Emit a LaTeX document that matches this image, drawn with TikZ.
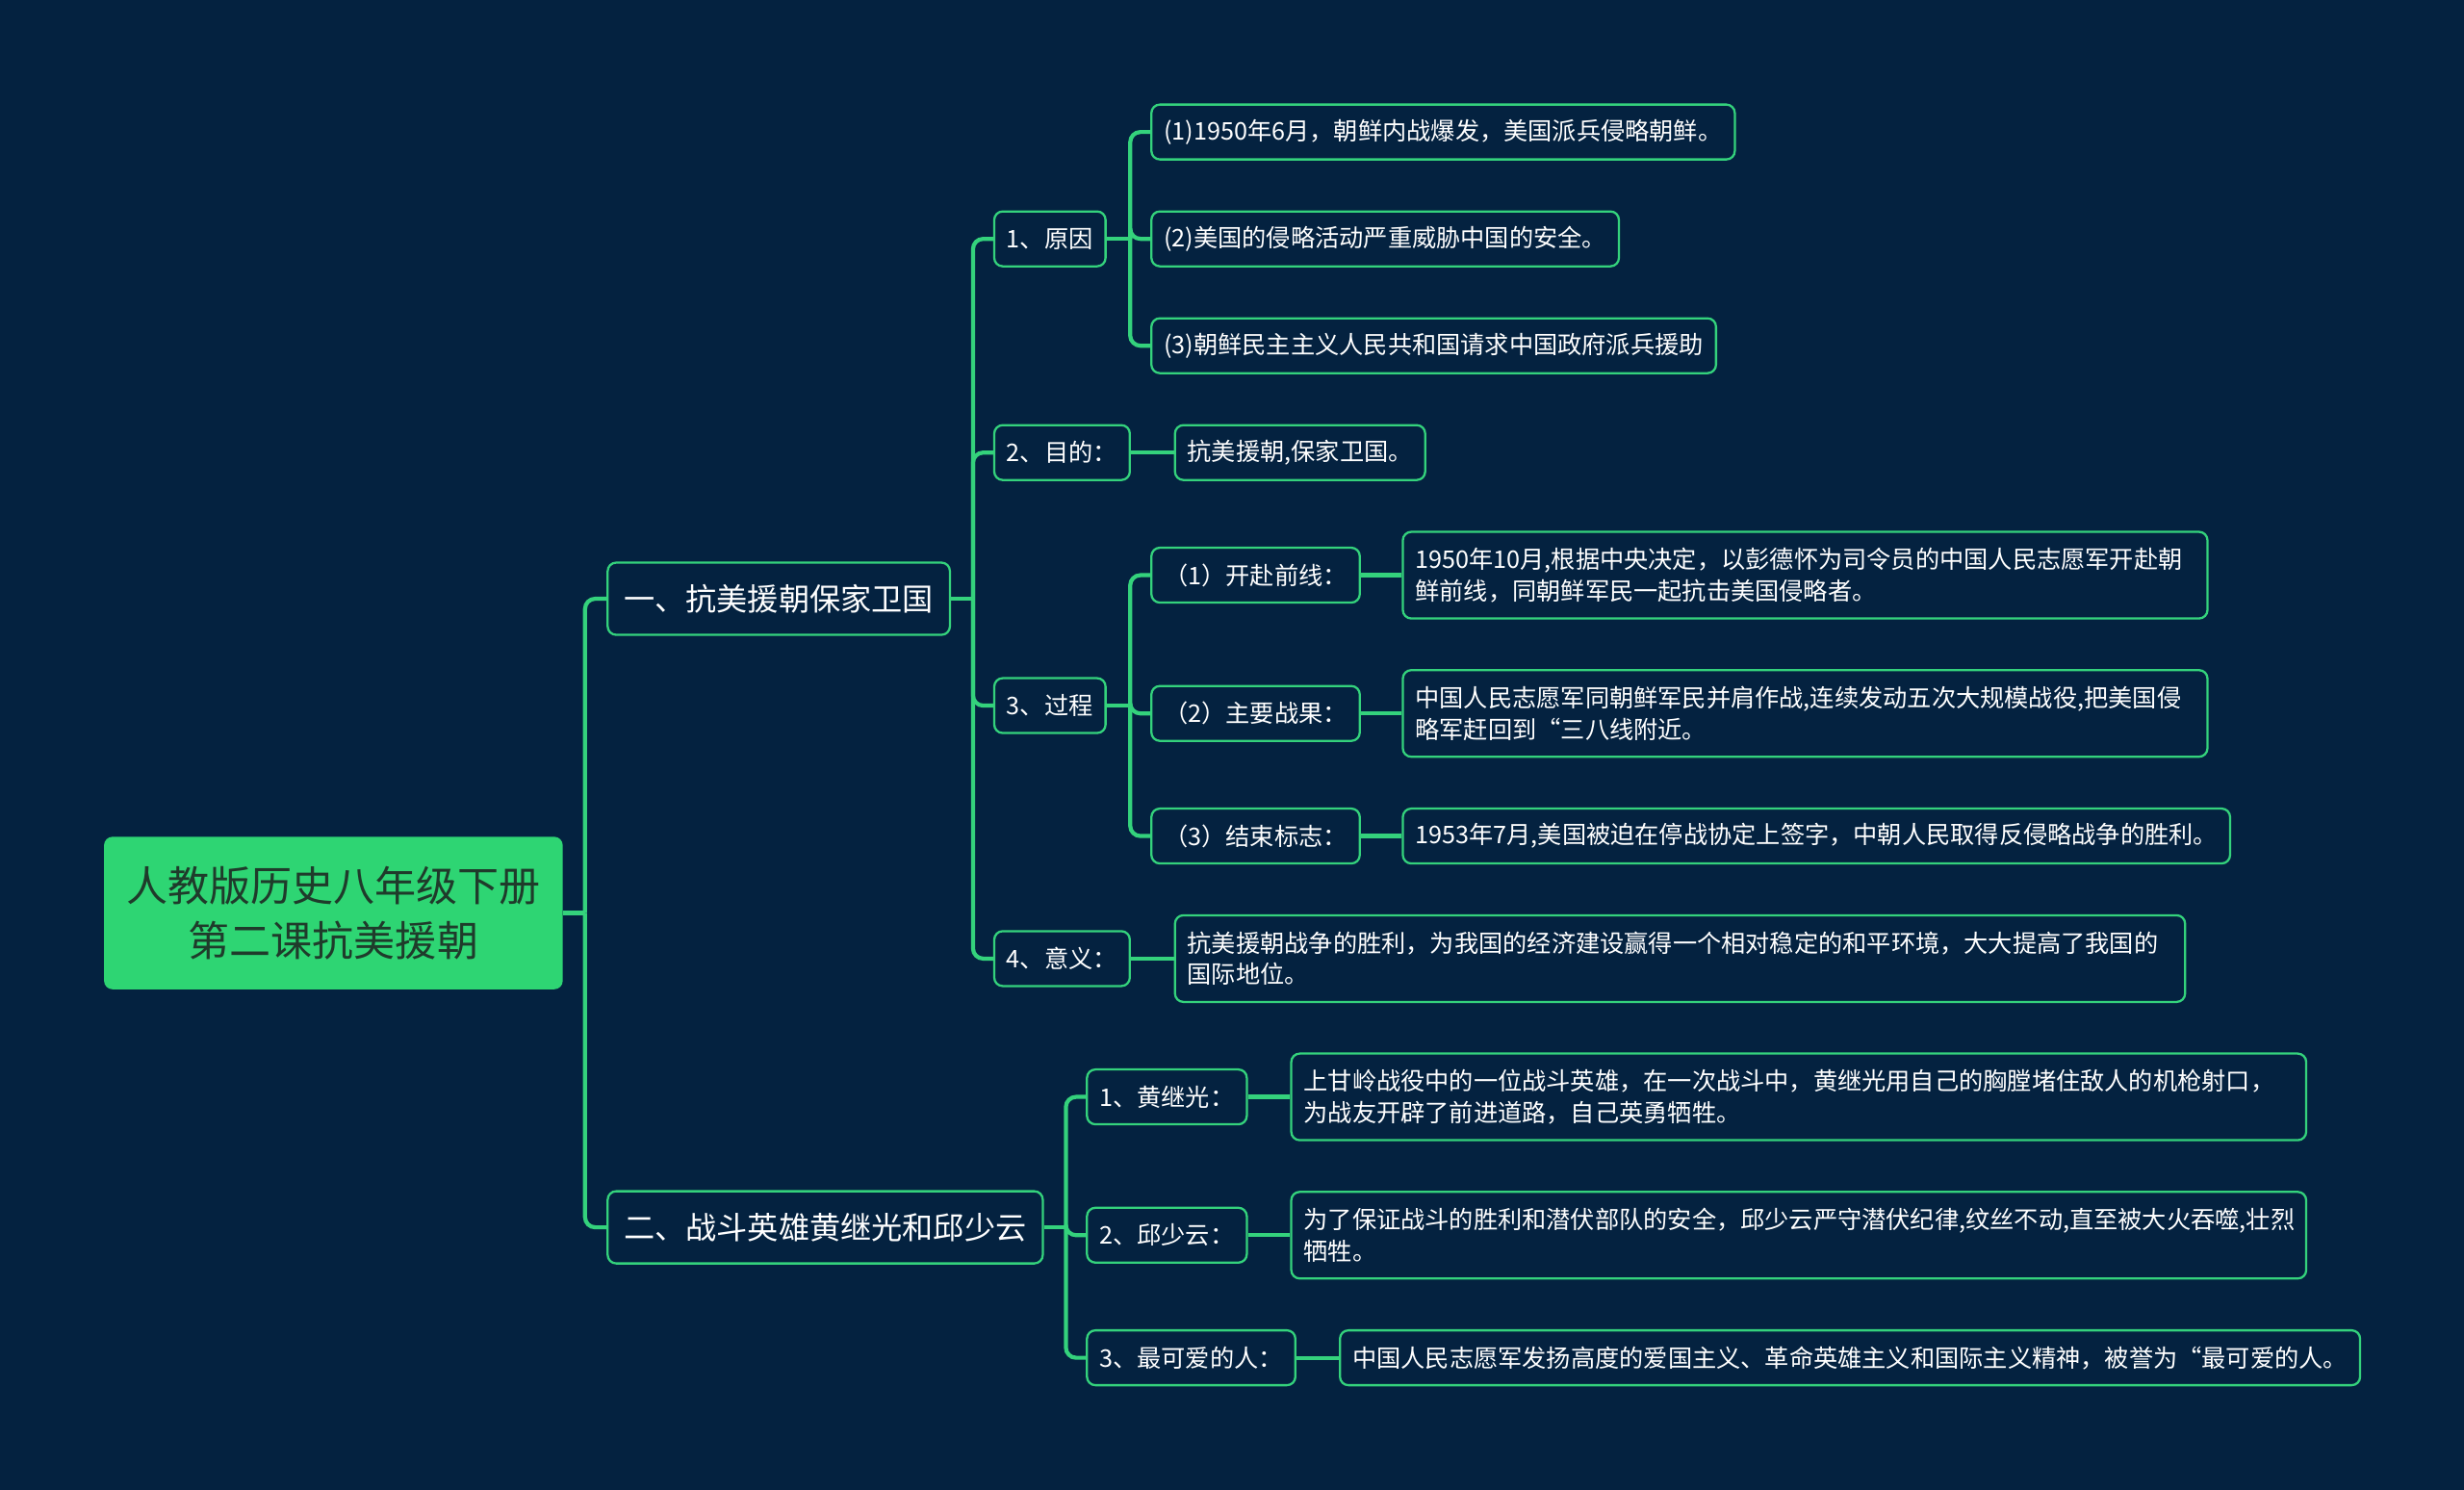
\documentclass[tikz,border=0pt]{standalone}
\usepackage{fontspec}
\setmainfont{Noto Sans CJK SC}

\definecolor{bgnavy}{HTML}{042240}
\definecolor{linkgreen}{HTML}{34D27C}
\definecolor{rootgreen}{HTML}{2ED573}
\definecolor{roottext}{HTML}{1F3B2B}

\begin{document}
\begin{tikzpicture}[x=0.0326531cm,y=-0.0326531cm,
    link/.style={draw=linkgreen, line width=2.4pt},
    leaf/.style={draw=linkgreen, line width=1.3pt, rounded corners=5pt, fill=bgnavy, text=white,
        anchor=west, align=left, inner xsep=0.26cm, inner ysep=0pt, minimum height=1.14cm,
        font=\fontsize{14.35}{18.5}\selectfont},
    twoline/.style={leaf, minimum height=1.8cm, text width=#1},
    topic/.style={leaf, inner xsep=0.34cm, minimum height=1.5cm, font=\fontsize{18.3}{22}\selectfont},
    rootbox/.style={fill=rootgreen, text=roottext, rounded corners=5pt, anchor=west, align=center,
        inner xsep=0.46cm, inner ysep=0pt, minimum height=3.17cm, font=\fontsize{24.5}{32.4}\selectfont}]
    \useasboundingbox (0,0) rectangle (1568,948);
    \fill[bgnavy] (0,0) rectangle (1568,948);

    % centre and main topics
    \node[rootbox] (root) at (66,581) {人教版历史八年级下册\\第二课抗美援朝};
    \node[topic] (war) at (386,381) {一、抗美援朝保家卫国};
    \node[topic] (hero) at (386,781) {二、战斗英雄黄继光和邱少云};

    % first topic
    \node[leaf] (cause) at (632,152) {1、原因};
    \node[leaf] (aim) at (632,288) {2、目的：};
    \node[leaf] (course) at (632,449) {3、过程};
    \node[leaf] (sense) at (632,610) {4、意义：};
    \node[leaf] (causeA) at (732,84) {(1)1950年6月，朝鲜内战爆发，美国派兵侵略朝鲜。};
    \node[leaf] (causeB) at (732,152) {(2)美国的侵略活动严重威胁中国的安全。};
    \node[leaf] (causeC) at (732,220) {(3)朝鲜民主主义人民共和国请求中国政府派兵援助};
    \node[leaf] (aimtext) at (747,288) {抗美援朝,保家卫国。};
    \node[leaf] (front) at (732,366) {（1）开赴前线：};
    \node[leaf] (result) at (732,454) {（2）主要战果：};
    \node[leaf] (finish) at (732,532) {（3）结束标志：};
    \node[twoline=16.2cm] (fronttext) at (892,366) {1950年10月,根据中央决定，以彭德怀为司令员的中国人民志愿军开赴朝\\鲜前线，同朝鲜军民一起抗击美国侵略者。};
    \node[twoline=16.2cm] (resulttext) at (892,454) {中国人民志愿军同朝鲜军民并肩作战,连续发动五次大规模战役,把美国侵\\略军赶回到“三八线附近。};
    \node[leaf] (finishtext) at (892,532) {1953年7月,美国被迫在停战协定上签字，中朝人民取得反侵略战争的胜利。};
    \node[twoline=20.47cm] (sensetext) at (747,610) {抗美援朝战争的胜利，为我国的经济建设赢得一个相对稳定的和平环境，大大提高了我国的\\国际地位。};

    % second topic
    \node[leaf] (huang) at (691,698) {1、黄继光：};
    \node[leaf] (qiu) at (691,786) {2、邱少云：};
    \node[leaf] (dear) at (691,864) {3、最可爱的人：};
    \node[twoline=20.57cm] (huangtext) at (821,698) {上甘岭战役中的一位战斗英雄，在一次战斗中，黄继光用自己的胸膛堵住敌人的机枪射口，\\为战友开辟了前进道路，自己英勇牺牲。};
    \node[twoline=20.57cm] (qiutext) at (821,786) {为了保证战斗的胜利和潜伏部队的安全，邱少云严守潜伏纪律,纹丝不动,直至被大火吞噬,壮烈\\牺牲。};
    \node[leaf] (deartext) at (852,864) {中国人民志愿军发扬高度的爱国主义、革命英雄主义和国际主义精神，被誉为“最可爱的人。};

    % connectors
    \draw[link] (root.east) -- ++(14,0) coordinate (jroot);
    \foreach \c in {war,hero}
        \draw[link, rounded corners=6pt] (jroot) |- (\c.west);
    \draw[link] (war.east) -- ++(14,0) coordinate (jwar);
    \foreach \c in {cause,aim,course,sense}
        \draw[link, rounded corners=6pt] (jwar) |- (\c.west);
    \draw[link] (cause.east) -- ++(15,0) coordinate (jcause);
    \foreach \c in {causeA,causeB,causeC}
        \draw[link, rounded corners=6pt] (jcause) |- (\c.west);
    \draw[link] (course.east) -- ++(15,0) coordinate (jcourse);
    \foreach \c in {front,result,finish}
        \draw[link, rounded corners=6pt] (jcourse) |- (\c.west);
    \draw[link] (hero.east) -- ++(14,0) coordinate (jhero);
    \foreach \c in {huang,qiu,dear}
        \draw[link, rounded corners=6pt] (jhero) |- (\c.west);
    \foreach \a/\b in {aim/aimtext,sense/sensetext,front/fronttext,result/resulttext,finish/finishtext,huang/huangtext,qiu/qiutext,dear/deartext}
        \draw[link] (\a.east) -- (\b.west);
\end{tikzpicture}
\end{document}
